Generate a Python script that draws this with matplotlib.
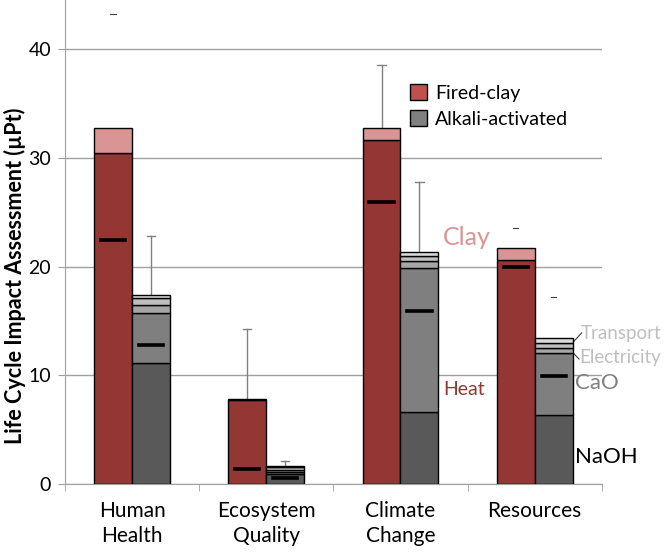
import numpy as np
import matplotlib
matplotlib.use("Agg")
import matplotlib.pyplot as plt
from matplotlib.patches import Patch

plt.rcParams['font.family'] = ['Lato', 'DejaVu Sans']

categories = ['Human\nHealth', 'Ecosystem\nQuality', 'Climate\nChange', 'Resources']

# fired-clay: stacked heat + clay
fired_heat = [30.4, 7.75, 31.6, 20.6]
fired_clay = [2.35, 0.05, 1.1, 1.1]
fired_mean = [22.4, 1.4, 25.9, 20.0]
fired_err_top = [43.2, 14.3, 38.5, 23.5]
fired_err_line = [False, True, True, False]

# alkali-activated: stacked NaOH, CaO, electricity, transport, other
alk_naoh = [11.1, 0.95, 6.6, 6.35]
alk_cao = [4.6, 0.15, 13.3, 5.7]
alk_elec = [0.8, 0.2, 0.6, 0.45]
alk_trans = [0.6, 0.25, 0.5, 0.5]
alk_other = [0.3, 0.1, 0.35, 0.4]
alk_mean = [12.8, 0.6, 15.9, 9.9]
alk_err_top = [22.8, 2.15, 27.8, 17.2]
alk_err_line = [True, True, True, False]

heat_c = '#943634'
clay_c = '#d99594'
grey_c = ['#595959', '#7f7f7f', '#a5a5a5', '#bfbfbf', '#d9d9d9']

fig = plt.figure(figsize=(6.66, 5.59), dpi=100)
ax = fig.add_axes([0.0976, 0.134, 0.806, 0.866])

x = np.arange(len(categories))
w = 0.283
xf = x - w / 2
xa = x + w / 2

ax.bar(xf, fired_heat, w, color=heat_c, edgecolor='black', linewidth=1, zorder=3)
ax.bar(xf, fired_clay, w, bottom=fired_heat, color=clay_c, edgecolor='black', linewidth=1, zorder=3)
fired_tot = np.array(fired_heat) + np.array(fired_clay)

bottom = np.zeros(len(categories))
for vals, c in zip([alk_naoh, alk_cao, alk_elec, alk_trans, alk_other], grey_c):
    ax.bar(xa, vals, w, bottom=bottom, color=c, edgecolor='black', linewidth=1, zorder=3)
    bottom = bottom + np.array(vals)
alk_tot = bottom

# error bars (upper only)
for xs, tots, tops, show in [(xf, fired_tot, fired_err_top, fired_err_line),
                             (xa, alk_tot, alk_err_top, alk_err_line)]:
    for xi, t, e, s in zip(xs, tots, tops, show):
        if s:
            ax.plot([xi, xi], [t, e], color='#808080', lw=1, zorder=2)
            ax.plot([xi - 0.03, xi + 0.03], [e, e], color='#808080', lw=1, zorder=2)
        else:
            ax.plot([xi - 0.02, xi + 0.02], [e, e], color='#404040', lw=0.8, zorder=2)

# mean markers
for xs, ms in [(xf, fired_mean), (xa, alk_mean)]:
    for xi, m in zip(xs, ms):
        ax.plot([xi - 0.09, xi + 0.09], [m, m], color='black', lw=2.6, zorder=4)

ax.set_xlim(-0.5, 3.5)
ax.set_ylim(0, 44.5)
ax.set_yticks([0, 10, 20, 30, 40])
ax.set_xticks(x)
ax.set_xticklabels(categories, fontsize=15, linespacing=1.35)
ax.set_xticks(np.arange(-0.5, 4.0, 1.0), minor=True)
ax.tick_params(axis='x', which='major', length=0, pad=12)
ax.tick_params(axis='x', which='minor', length=5, color='#a0a0a0')
ax.tick_params(axis='y', length=5, color='#a0a0a0', labelsize=14, pad=5)
ax.yaxis.grid(True, color='#a0a0a0', lw=1, zorder=0)
ax.set_axisbelow(True)
for s in ['top', 'right']:
    ax.spines[s].set_visible(False)
for s in ['left', 'bottom']:
    ax.spines[s].set_color('#a0a0a0')

ax.set_ylabel('Life Cycle Impact Assessment (µPt)', fontsize=15.5, fontweight='bold')
ax.yaxis.set_label_coords(-0.0725, 0.43)

# component labels
ax.text(2.316, 22.7, 'Clay', color=clay_c, fontsize=18, va='center', ha='left')
ax.text(2.316, 8.65, 'Heat', color=heat_c, fontsize=14, va='center', ha='left')
ax.text(3.34, 13.8, 'Transport', color='#bfbfbf', fontsize=13.5, va='center', ha='left')
ax.text(3.33, 11.6, 'Electricity', color='#bfbfbf', fontsize=13.5, va='center', ha='left')
ax.text(3.30, 9.3, 'CaO', color='#808080', fontsize=16, va='center', ha='left')
ax.text(3.30, 2.5, 'NaOH', color='black', fontsize=16, va='center', ha='left')
ax.plot([3.283, 3.35], [13.0, 13.9], color='#404040', lw=0.8, clip_on=False)
ax.plot([3.283, 3.33], [12.1, 11.5], color='#404040', lw=0.8, clip_on=False)

handles = [Patch(facecolor='#c0504d', edgecolor='black', label='Fired-clay'),
           Patch(facecolor='#808080', edgecolor='black', label='Alkali-activated')]
ax.legend(handles=handles, loc='upper left', bbox_to_anchor=(0.6425, 0.826), frameon=False,
          borderaxespad=0, borderpad=0,
          fontsize=14, handlelength=0.9, handleheight=0.9, handletextpad=0.4, labelspacing=0.4)

fig.savefig('out.png', dpi=100)
